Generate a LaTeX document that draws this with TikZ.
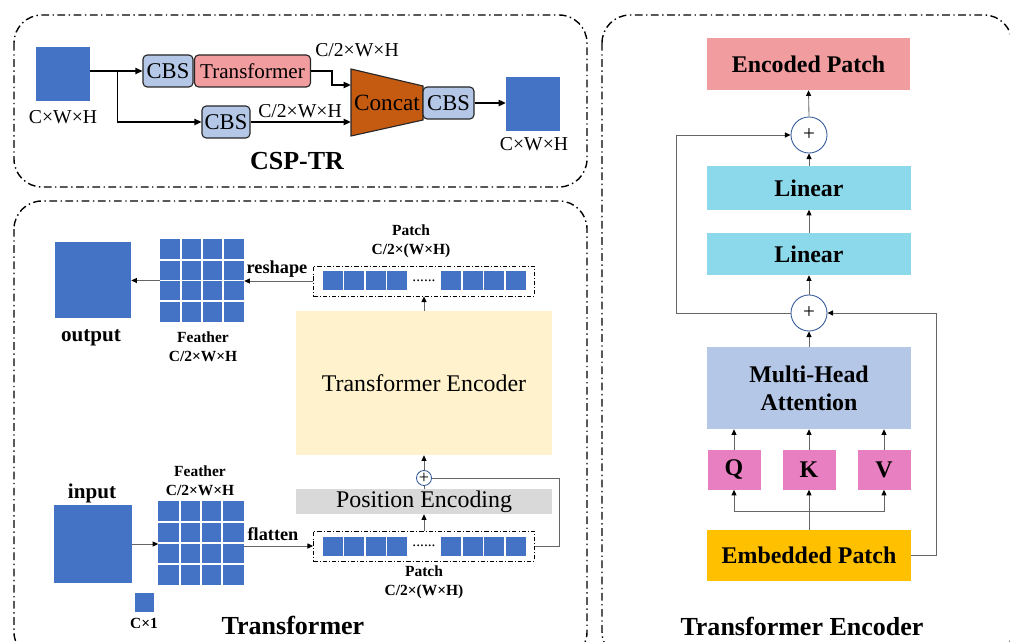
\documentclass[tikz,border=0pt]{standalone}
\usepackage{fontspec}
\setmainfont{Liberation Serif}
\usetikzlibrary{arrows.meta,calc}
\newcommand\px{0.25mm}
\definecolor{featblue}{HTML}{4472C4}
\definecolor{cbsblue}{HTML}{B4C7E7}
\definecolor{transred}{HTML}{F19C9F}
\definecolor{concatbrown}{HTML}{C55A11}
\definecolor{encyellow}{HTML}{FFF2CC}
\definecolor{posgray}{HTML}{D9D9D9}
\definecolor{linearcyan}{HTML}{8DD9EC}
\definecolor{qkvpink}{HTML}{E77FC0}
\definecolor{embedorange}{HTML}{FFC000}
\definecolor{plusblue}{HTML}{2F5597}

\begin{document}
\begin{tikzpicture}[x=0.025cm, y=-0.025cm]
   \useasboundingbox (0,0) rectangle (1010,642);
   \clip (0,0) rectangle (1010,642);
   \tikzstyle{panel}=[draw=black, line width=1pt, rounded corners=7mm, dash pattern=on 5.5pt off 2.5pt on 1pt off 2.5pt]
   \tikzstyle{cbs}=[draw=black!85, line width=0.8pt, rounded corners=3pt, fill=cbsblue, inner sep=0pt, minimum height=32*\px, font=\fontsize{16pt}{18pt}\selectfont]
   \tikzstyle{sq}=[fill=featblue, inner sep=0pt]
   \tikzstyle{dimtext}=[font=\fontsize{14pt}{16pt}\selectfont]
   \tikzstyle{smalltext}=[font=\bfseries\fontsize{11pt}{13.5pt}\selectfont, align=center]
   \tikzstyle{wordtext}=[font=\bfseries\fontsize{13pt}{15pt}\selectfont]
   \tikzstyle{iotext}=[font=\bfseries\fontsize{15pt}{18pt}\selectfont]
   \tikzstyle{titletext}=[font=\bfseries\fontsize{18.5pt}{22pt}\selectfont]
   \tikzstyle{block}=[inner sep=0pt, minimum width=203*\px, font=\bfseries\fontsize{17pt}{20pt}\selectfont, align=center]
   \tikzstyle{wide}=[inner sep=0pt, minimum width=256*\px, font=\fontsize{17pt}{20pt}\selectfont]
   \tikzstyle{strip}=[draw=black, line width=0.6pt, dash pattern=on 3pt off 1.5pt on 0.6pt off 1.5pt, minimum width=221*\px, minimum height=30*\px, inner sep=0pt]
   \tikzstyle{plus}=[circle, draw=plusblue, fill=white, inner sep=0pt, line width=0.6pt]
   \tikzstyle{thick arrow}=[line width=1pt, -{Triangle[length=5pt,width=4.5pt]}]
   \tikzstyle{thin arrow}=[draw=black!60, line width=0.6pt, -{Triangle[length=4pt,width=3.6pt,color=black]}]
   \tikzstyle{thin line}=[draw=black!60, line width=0.6pt]

   % CSP-TR
   \draw[panel] (14,15) rectangle (587,187);
   \node[sq, minimum size=54*\px] (in1) at (63,74) {};
   \node[dimtext] (in1dim) at (63,117) {C×W×H};
   \node[cbs, minimum width=50*\px] (cbs1) at (168,71) {CBS};
   \node[cbs, fill=transred, minimum width=116*\px, font=\fontsize{15pt}{17pt}\selectfont] (trans) at (252.5,71) {Transformer};
   \node[cbs, minimum width=48*\px] (cbs2) at (226,122) {CBS};
   \draw[fill=concatbrown, draw=black!85, line width=0.8pt] (351,69) -- (423,86) -- (423,120) -- (351,136) -- cycle;
   \node[inner sep=0pt, minimum width=72*\px, minimum height=67*\px, font=\fontsize{16.5pt}{18pt}\selectfont] (concat) at (387,103) {Concat};
   \node[cbs, minimum width=51*\px] (cbs3) at (448.5,103) {CBS};
   \node[sq, minimum size=54*\px] (out1) at (533,104) {};
   \node[dimtext] (out1dim) at (534,144) {C×W×H};
   \node[dimtext] (upperdim) at (357,50) {C/2×W×H};
   \node[dimtext] (lowerdim) at (300,111) {C/2×W×H};
   \draw[thick arrow] (in1.east |- cbs1.west) -- (cbs1.west);
   \draw[thick arrow] ($(in1.east |- cbs1.west)+(27,0)$) |- (cbs2.west);
   \draw[thick arrow] (trans.east) -- ++(21,0) |- ($(concat.west)+(0,-18)$);
   \draw[thick arrow] (cbs2.east) -- (cbs2.east -| concat.west);
   \draw[thick arrow] (cbs3.east) -- (cbs3.east -| out1.west);
   \node[titletext] (csptr) at (297,161) {CSP-TR};

   % Transformer
   \draw[panel] (14,201) rectangle (587,660);
   \node[sq, minimum size=76*\px] (output) at (93,280) {};
   \node[iotext] (outlab) at (91,338) {output};
   \node[sq, minimum width=84*\px, minimum height=83*\px] (feat2) at (202,280.5) {};
   \node[smalltext] (feat2lab) at (203,347) {Feather\\C/2×W×H};
   \node[strip] (patch2) at (424,281) {};
   \node[smalltext] (patch2lab) at (411,241) {Patch\\C/2×(W×H)};
   \node[wordtext] (reshape) at (277,269) {reshape};
   \node[wide, minimum height=144*\px, fill=encyellow] (encoder) at (424,383) {Transformer Encoder};
   \node[plus, minimum size=15*\px, font=\fontsize{13pt}{13pt}\selectfont] (plus0) at (424,478) {+};
   \node[wide, minimum height=25*\px, fill=posgray] (posenc) at (424,501.5) {Position Encoding};
   \node[strip] (patch1) at (424,546) {};
   \node[smalltext] (patch1lab) at (424,582) {Patch\\C/2×(W×H)};
   \node[sq, minimum size=77*\px] (input) at (93,544) {};
   \node[iotext] (inlab) at (92,493) {input};
   \node[sq, minimum width=85*\px, minimum height=83*\px] (feat1) at (201,543) {};
   \node[smalltext] (feat1lab) at (200,481) {Feather\\C/2×W×H};
   \node[wordtext] (flatten) at (273,534) {flatten};
   \node[sq, minimum size=19*\px] (chan) at (144.5,602.5) {};
   \node[smalltext] (chanlab) at (144,623) {C×1};
   \node[titletext] (transtitle) at (293,625) {Transformer};
   \foreach \g in {feat1,feat2} {
     \foreach \k in {1,2,3} {
       \draw[white, line width=1.4pt] ($(\g.north west)!\k/4!(\g.north east)$) -- ($(\g.south west)!\k/4!(\g.south east)$);
       \draw[white, line width=1.4pt] ($(\g.north west)!\k/4!(\g.south west)$) -- ($(\g.north east)!\k/4!(\g.south east)$);
     }
   }
   \foreach \s in {patch1,patch2} {
     \foreach \dx in {-91.5,-70,-48.5,-27,27,48.5,70,91.5}
       \fill[featblue] ($(\s)+(\dx-10,-9.5)$) rectangle ($(\s)+(\dx+10,9.5)$);
     \node[font=\fontsize{11pt}{11pt}\selectfont] (dots\s) at (\s) {......};
   }
   \draw[thin arrow] (patch2.west) -- (patch2.west -| feat2.east);
   \draw[thin arrow] (feat2.west) -- (feat2.west -| output.east);
   \draw[thin arrow] (encoder.north) -- (patch2.south);
   \draw[thin arrow] (plus0.north) -- (encoder.south);
   \draw[thin line] (posenc.north) -- (plus0.south);
   \draw[thin arrow] (patch1.north) -- (posenc.south);
   \draw[thin line] (patch1.east) -- ++(24,0) |- (plus0.east);
   \draw[thin arrow] (input.east) -- (input.east -| feat1.west);
   \draw[thin arrow] (feat1.east |- patch1.west) -- (patch1.west);

   % Transformer Encoder
   \draw[panel] (602,15) rectangle (1012,660);
   \node[block, fill=transred, minimum height=52*\px] (encoded) at (808.5,64) {Encoded Patch};
   \node[plus, minimum size=36*\px, font=\fontsize{15pt}{15pt}\selectfont] (plus1) at (809,135) {+};
   \node[block, fill=linearcyan, minimum height=43*\px] (linear1) at (809,188) {Linear};
   \node[block, fill=linearcyan, minimum height=42*\px] (linear2) at (809,254) {Linear};
   \node[plus, minimum size=36*\px, font=\fontsize{15pt}{15pt}\selectfont] (plus2) at (809,313) {+};
   \node[block, fill=cbsblue, minimum height=82*\px] (mha) at (809,388) {Multi-Head\\Attention};
   \foreach \n/\x in {Q/734,K/809,V/884}
     \node[block, fill=qkvpink, minimum width=53*\px, minimum height=39*\px] (\n) at (\x,470) {\n};
   \node[block, fill=embedorange, minimum height=51*\px] (embed) at (809,555.5) {Embedded Patch};
   \node[titletext] (enctitle) at (802,626) {Transformer Encoder};
   \draw[thin arrow] (plus1.north) -- (encoded.south);
   \draw[thin arrow] (linear1.north) -- (plus1.south);
   \draw[thin arrow] (linear2.north) -- (linear1.south);
   \draw[thin arrow] (plus2.north) -- (linear2.south);
   \draw[thin arrow] (mha.north) -- (plus2.south);
   \draw[thin arrow] (plus2.west) -- ++(-114,0) |- (plus1.west);
   \foreach \n in {Q,K,V}
     \draw[thin arrow] (\n.north) -- (\n.north |- mha.south);
   \draw[thin line] (embed.north) -- ++(0,-18);
   \foreach \n in {Q,K,V}
     \draw[thin arrow] ($(embed.north)+(0,-18)$) -| (\n.south);
   \draw[thin arrow] (embed.east) -- ++(26,0) |- (plus2.east);
\end{tikzpicture}
\end{document}
